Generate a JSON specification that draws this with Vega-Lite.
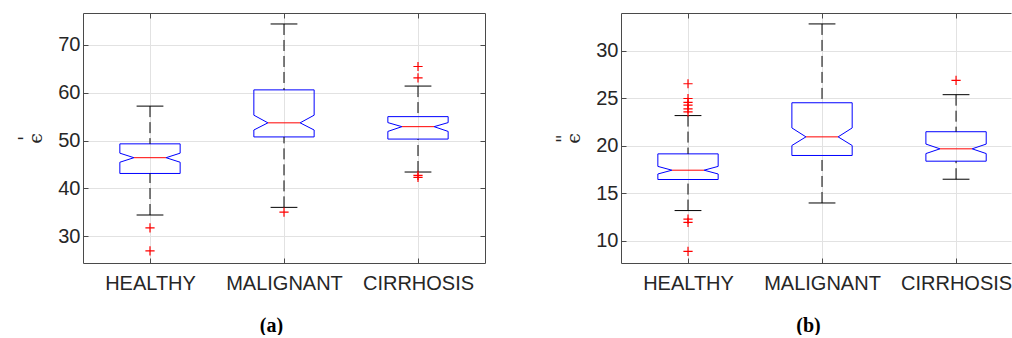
{
  "$schema": "https://vega.github.io/schema/vega-lite/v6.json",
  "padding": {"left": 16, "top": 12, "right": 0, "bottom": 0},
  "bounds": "flush",
  "spacing": 136,
  "datasets": {
    "boxes": [
      {"panel": "a", "group": "HEALTHY", "q1": 43.1, "med": 46.4, "q3": 49.3, "nlo": 45.45, "nhi": 47.35, "wlo": 34.4, "whi": 57.2},
      {"panel": "a", "group": "MALIGNANT", "q1": 50.75, "med": 53.7, "q3": 60.6, "nlo": 52.2, "nhi": 55.3, "wlo": 36.0, "whi": 74.4},
      {"panel": "a", "group": "CIRRHOSIS", "q1": 50.3, "med": 52.9, "q3": 55.0, "nlo": 51.9, "nhi": 53.75, "wlo": 43.4, "whi": 61.4},
      {"panel": "b", "group": "HEALTHY", "q1": 16.47, "med": 17.45, "q3": 19.17, "nlo": 17.05, "nhi": 17.85, "wlo": 13.2, "whi": 23.2},
      {"panel": "b", "group": "MALIGNANT", "q1": 19.0, "med": 20.96, "q3": 24.55, "nlo": 20.05, "nhi": 21.9, "wlo": 14.0, "whi": 32.85},
      {"panel": "b", "group": "CIRRHOSIS", "q1": 18.4, "med": 19.7, "q3": 21.5, "nlo": 19.2, "nhi": 20.2, "wlo": 16.5, "whi": 25.4}
    ],
    "outliers": [
      {"panel": "a", "group": "HEALTHY", "value": 31.7},
      {"panel": "a", "group": "HEALTHY", "value": 26.9},
      {"panel": "a", "group": "MALIGNANT", "value": 35.0},
      {"panel": "a", "group": "CIRRHOSIS", "value": 65.5},
      {"panel": "a", "group": "CIRRHOSIS", "value": 63.1},
      {"panel": "a", "group": "CIRRHOSIS", "value": 42.7},
      {"panel": "a", "group": "CIRRHOSIS", "value": 42.3},
      {"panel": "b", "group": "HEALTHY", "value": 26.55},
      {"panel": "b", "group": "HEALTHY", "value": 25.0},
      {"panel": "b", "group": "HEALTHY", "value": 24.6},
      {"panel": "b", "group": "HEALTHY", "value": 24.3},
      {"panel": "b", "group": "HEALTHY", "value": 23.9},
      {"panel": "b", "group": "HEALTHY", "value": 23.6},
      {"panel": "b", "group": "HEALTHY", "value": 12.3},
      {"panel": "b", "group": "HEALTHY", "value": 11.95},
      {"panel": "b", "group": "HEALTHY", "value": 8.9},
      {"panel": "b", "group": "CIRRHOSIS", "value": 26.9}
    ]
  },
  "hconcat": [
    {
      "width": 402,
      "height": 250,
      "resolve": {"axis": {"x": "independent", "y": "independent"}},
      "layer": [
        {
          "data": {"name": "boxes"},
          "transform": [
            {"filter": "datum.panel == 'a'"},
            {"calculate": "indexof(['HEALTHY','MALIGNANT','CIRRHOSIS'], datum.group) + 1", "as": "gi"},
            {"fold": ["q3", "nhi", "med", "nlo", "q1"], "as": ["k", "yv"]},
            {"calculate": "1", "as": "sR"},
            {"calculate": "-1", "as": "sL"},
            {"fold": ["sR", "sL"], "as": ["sk", "side"]},
            {"calculate": "datum.gi + datum.side * (datum.k == 'med' ? 0.12 : 0.225)", "as": "xv"},
            {"calculate": "datum.side > 0 ? indexof(['q3','nhi','med','nlo','q1'], datum.k) : 9 - indexof(['q3','nhi','med','nlo','q1'], datum.k)", "as": "ord"}
          ],
          "mark": {"type": "line", "interpolate": "linear-closed", "color": "#0000ff", "strokeWidth": 1},
          "encoding": {
            "x": {"field": "xv", "type": "quantitative", "scale": {"domain": [0.5, 3.5], "nice": false, "zero": false},
              "axis": {"orient": "bottom", "values": [1, 2, 3], "labelExpr": "['HEALTHY','MALIGNANT','CIRRHOSIS'][datum.value - 1]", "grid": true, "title": "(a)", "titleFont": "Liberation Serif", "titleFontWeight": "bold", "titleFontSize": 20, "titleColor": "#000000", "titleX": 188, "titleY": 68, "titleBaseline": "alphabetic", "titleAlign": "center", "labelPadding": 15}},
            "y": {"field": "yv", "type": "quantitative", "scale": {"domain": [24.35, 76.7], "nice": false, "zero": false},
              "axis": {"orient": "left", "values": [30, 40, 50, 60, 70], "grid": true, "title": ["\u00a0\u00a0\u00a0\u00a0'", "ϵ\u00a0"], "titleFont": "DejaVu Serif", "titleFontSize": 19, "titleFontWeight": "normal", "titleColor": "#262626", "titleLineHeight": 10, "titlePadding": 12, "labelPadding": 8}},
            "order": {"field": "ord", "type": "quantitative"},
            "detail": {"field": "group"}
          }
        },
        {
          "data": {"name": "boxes"},
          "transform": [
            {"filter": "datum.panel == 'a'"},
            {"calculate": "indexof(['HEALTHY','MALIGNANT','CIRRHOSIS'], datum.group) + 1", "as": "gi"},
            {"calculate": "datum.gi - 0.12", "as": "m1"},
            {"calculate": "datum.gi + 0.12", "as": "m2"}
          ],
          "mark": {"type": "rule", "color": "#ff0000", "strokeWidth": 1},
          "encoding": {
            "x": {"field": "m1", "type": "quantitative", "scale": {"domain": [0.5, 3.5], "nice": false, "zero": false},
              "axis": {"orient": "top", "values": [1, 2, 3], "labels": false, "grid": false, "title": null}},
            "x2": {"field": "m2"},
            "y": {"field": "med", "type": "quantitative", "scale": {"domain": [24.35, 76.7], "nice": false, "zero": false},
              "axis": {"orient": "right", "values": [30, 40, 50, 60, 70], "labels": false, "grid": false, "title": null}}
          }
        },
        {
          "data": {"name": "boxes"},
          "transform": [
            {"filter": "datum.panel == 'a'"},
            {"calculate": "indexof(['HEALTHY','MALIGNANT','CIRRHOSIS'], datum.group) + 1", "as": "gi"},
            {"fold": ["whi", "wlo"], "as": ["wk", "wv"]},
            {"calculate": "datum.wk == 'whi' ? datum.q3 : datum.q1", "as": "yb"}
          ],
          "mark": {"type": "rule", "color": "#000000", "strokeWidth": 1, "strokeDash": [11, 5]},
          "encoding": {
            "x": {"field": "gi", "type": "quantitative", "scale": {"domain": [0.5, 3.5], "nice": false, "zero": false}, "axis": null},
            "y": {"field": "wv", "type": "quantitative", "scale": {"domain": [24.35, 76.7], "nice": false, "zero": false}, "axis": null},
            "y2": {"field": "yb"}
          }
        },
        {
          "data": {"name": "boxes"},
          "transform": [
            {"filter": "datum.panel == 'a'"},
            {"calculate": "indexof(['HEALTHY','MALIGNANT','CIRRHOSIS'], datum.group) + 1", "as": "gi"},
            {"fold": ["whi", "wlo"], "as": ["wk", "wv"]},
            {"calculate": "datum.gi - 0.1", "as": "c1"},
            {"calculate": "datum.gi + 0.1", "as": "c2"}
          ],
          "mark": {"type": "rule", "color": "#000000", "strokeWidth": 1},
          "encoding": {
            "x": {"field": "c1", "type": "quantitative", "scale": {"domain": [0.5, 3.5], "nice": false, "zero": false}, "axis": null},
            "x2": {"field": "c2"},
            "y": {"field": "wv", "type": "quantitative", "scale": {"domain": [24.35, 76.7], "nice": false, "zero": false}, "axis": null}
          }
        },
        {
          "data": {"name": "outliers"},
          "transform": [
            {"filter": "datum.panel == 'a'"},
            {"calculate": "indexof(['HEALTHY','MALIGNANT','CIRRHOSIS'], datum.group) + 1", "as": "gi"}
          ],
          "mark": {"type": "point", "shape": "M-1,0H1M0,-1V1", "filled": false, "stroke": "#ff0000", "strokeWidth": 1.2, "size": 85, "opacity": 1},
          "encoding": {
            "x": {"field": "gi", "type": "quantitative", "scale": {"domain": [0.5, 3.5], "nice": false, "zero": false}, "axis": null},
            "y": {"field": "value", "type": "quantitative", "scale": {"domain": [24.35, 76.7], "nice": false, "zero": false}, "axis": null}
          }
        }
      ]
    },
    {
      "width": 390,
      "height": 250,
      "resolve": {"axis": {"x": "independent", "y": "independent"}},
      "layer": [
        {
          "data": {"name": "boxes"},
          "transform": [
            {"filter": "datum.panel == 'b'"},
            {"calculate": "indexof(['HEALTHY','MALIGNANT','CIRRHOSIS'], datum.group) + 1", "as": "gi"},
            {"fold": ["q3", "nhi", "med", "nlo", "q1"], "as": ["k", "yv"]},
            {"calculate": "1", "as": "sR"},
            {"calculate": "-1", "as": "sL"},
            {"fold": ["sR", "sL"], "as": ["sk", "side"]},
            {"calculate": "datum.gi + datum.side * (datum.k == 'med' ? 0.12 : 0.225)", "as": "xv"},
            {"calculate": "datum.side > 0 ? indexof(['q3','nhi','med','nlo','q1'], datum.k) : 9 - indexof(['q3','nhi','med','nlo','q1'], datum.k)", "as": "ord"}
          ],
          "mark": {"type": "line", "interpolate": "linear-closed", "color": "#0000ff", "strokeWidth": 1},
          "encoding": {
            "x": {"field": "xv", "type": "quantitative", "scale": {"domain": [0.5, 3.41], "nice": false, "zero": false},
              "axis": {"orient": "bottom", "values": [1, 2, 3], "labelExpr": "['HEALTHY','MALIGNANT','CIRRHOSIS'][datum.value - 1]", "grid": true, "title": "(b)", "titleFont": "Liberation Serif", "titleFontWeight": "bold", "titleFontSize": 20, "titleColor": "#000000", "titleX": 187, "titleY": 68, "titleBaseline": "alphabetic", "titleAlign": "center", "labelPadding": 15}},
            "y": {"field": "yv", "type": "quantitative", "scale": {"domain": [7.68, 34.0], "nice": false, "zero": false},
              "axis": {"orient": "left", "values": [10, 15, 20, 25, 30], "grid": true, "title": ["\u00a0\u00a0\u00a0\u00a0\"", "ϵ\u00a0"], "titleFont": "DejaVu Serif", "titleFontSize": 19, "titleFontWeight": "normal", "titleColor": "#262626", "titleLineHeight": 10, "titlePadding": 12, "labelPadding": 8}},
            "order": {"field": "ord", "type": "quantitative"},
            "detail": {"field": "group"}
          }
        },
        {
          "data": {"name": "boxes"},
          "transform": [
            {"filter": "datum.panel == 'b'"},
            {"calculate": "indexof(['HEALTHY','MALIGNANT','CIRRHOSIS'], datum.group) + 1", "as": "gi"},
            {"calculate": "datum.gi - 0.12", "as": "m1"},
            {"calculate": "datum.gi + 0.12", "as": "m2"}
          ],
          "mark": {"type": "rule", "color": "#ff0000", "strokeWidth": 1},
          "encoding": {
            "x": {"field": "m1", "type": "quantitative", "scale": {"domain": [0.5, 3.41], "nice": false, "zero": false},
              "axis": {"orient": "top", "values": [1, 2, 3], "labels": false, "grid": false, "title": null}},
            "x2": {"field": "m2"},
            "y": {"field": "med", "type": "quantitative", "scale": {"domain": [7.68, 34.0], "nice": false, "zero": false}, "axis": null}
          }
        },
        {
          "data": {"name": "boxes"},
          "transform": [
            {"filter": "datum.panel == 'b'"},
            {"calculate": "indexof(['HEALTHY','MALIGNANT','CIRRHOSIS'], datum.group) + 1", "as": "gi"},
            {"fold": ["whi", "wlo"], "as": ["wk", "wv"]},
            {"calculate": "datum.wk == 'whi' ? datum.q3 : datum.q1", "as": "yb"}
          ],
          "mark": {"type": "rule", "color": "#000000", "strokeWidth": 1, "strokeDash": [11, 5]},
          "encoding": {
            "x": {"field": "gi", "type": "quantitative", "scale": {"domain": [0.5, 3.41], "nice": false, "zero": false}, "axis": null},
            "y": {"field": "wv", "type": "quantitative", "scale": {"domain": [7.68, 34.0], "nice": false, "zero": false}, "axis": null},
            "y2": {"field": "yb"}
          }
        },
        {
          "data": {"name": "boxes"},
          "transform": [
            {"filter": "datum.panel == 'b'"},
            {"calculate": "indexof(['HEALTHY','MALIGNANT','CIRRHOSIS'], datum.group) + 1", "as": "gi"},
            {"fold": ["whi", "wlo"], "as": ["wk", "wv"]},
            {"calculate": "datum.gi - 0.1", "as": "c1"},
            {"calculate": "datum.gi + 0.1", "as": "c2"}
          ],
          "mark": {"type": "rule", "color": "#000000", "strokeWidth": 1},
          "encoding": {
            "x": {"field": "c1", "type": "quantitative", "scale": {"domain": [0.5, 3.41], "nice": false, "zero": false}, "axis": null},
            "x2": {"field": "c2"},
            "y": {"field": "wv", "type": "quantitative", "scale": {"domain": [7.68, 34.0], "nice": false, "zero": false}, "axis": null}
          }
        },
        {
          "data": {"name": "outliers"},
          "transform": [
            {"filter": "datum.panel == 'b'"},
            {"calculate": "indexof(['HEALTHY','MALIGNANT','CIRRHOSIS'], datum.group) + 1", "as": "gi"}
          ],
          "mark": {"type": "point", "shape": "M-1,0H1M0,-1V1", "filled": false, "stroke": "#ff0000", "strokeWidth": 1.2, "size": 85, "opacity": 1},
          "encoding": {
            "x": {"field": "gi", "type": "quantitative", "scale": {"domain": [0.5, 3.41], "nice": false, "zero": false}, "axis": null},
            "y": {"field": "value", "type": "quantitative", "scale": {"domain": [7.68, 34.0], "nice": false, "zero": false}, "axis": null}
          }
        }
      ]
    }
  ],
  "config": {
    "view": {"stroke": null},
    "axis": {
      "labelFont": "Liberation Sans",
      "labelFontSize": 20,
      "labelColor": "#262626",
      "gridColor": "#e2e2e2",
      "gridOpacity": 1,
      "domainColor": "#4a4a4a",
      "tickColor": "#4a4a4a",
      "tickSize": -5
    }
  }
}
